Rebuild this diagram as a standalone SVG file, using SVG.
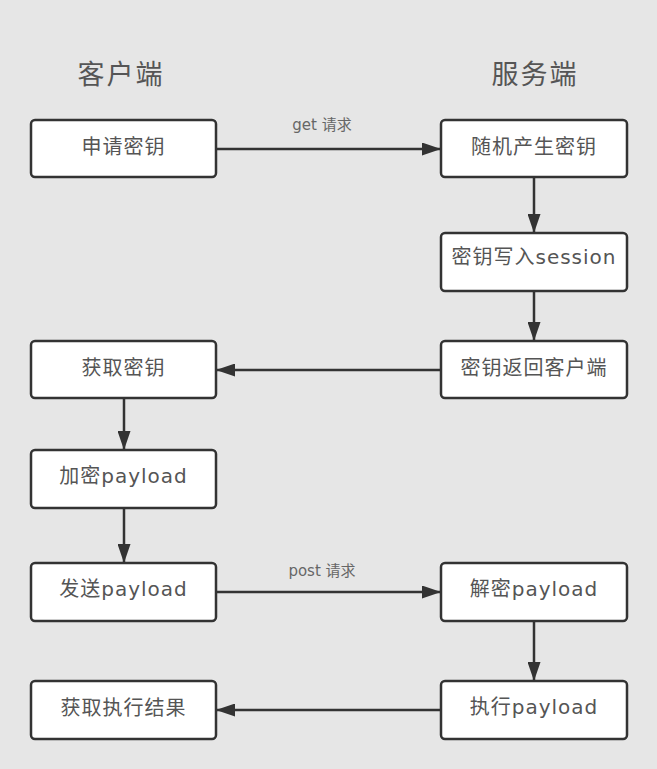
<svg xmlns="http://www.w3.org/2000/svg" width="657" height="769" viewBox="0 0 657 769">
<defs>
<marker id="ah" viewBox="0 0 19 13" refX="19" refY="6.5" markerWidth="19" markerHeight="13" markerUnits="userSpaceOnUse" orient="auto">
<path d="M0,0 L19,6.5 L0,13 z" fill="#333"/>
</marker>
<style>
.box{fill:#fff;stroke:#333;stroke-width:2.5}
.t{font-family:"DejaVu Sans","Noto Sans CJK SC",sans-serif;font-size:20px;letter-spacing:1px;fill:#555;text-anchor:middle;dominant-baseline:central}
.h{font-family:"Noto Sans CJK SC",sans-serif;font-size:27px;letter-spacing:2px;fill:#555;text-anchor:middle;dominant-baseline:central}
.l{font-family:"DejaVu Sans","Noto Sans CJK SC",sans-serif;font-size:15px;fill:#666;text-anchor:middle;dominant-baseline:central}
.c{stroke:#333;stroke-width:2.5;fill:none;marker-end:url(#ah)}
</style>
</defs>
<rect width="657" height="769" fill="#e6e6e6"/>
<text class="h" x="121" y="72">客户端</text>
<text class="h" x="535" y="72">服务端</text>
<g id="connectors">
<path class="c" d="M216,149 H441"/>
<path class="c" d="M534,177 V233"/>
<path class="c" d="M534,291 V341"/>
<path class="c" d="M441,370 H216"/>
<path class="c" d="M124,398 V450"/>
<path class="c" d="M124,508 V563"/>
<path class="c" d="M216,592 H441"/>
<path class="c" d="M534,621 V681"/>
<path class="c" d="M441,710 H216"/>
<text class="l" x="322" y="125">get 请求</text>
<text class="l" x="322" y="571">post 请求</text>
</g>
<g id="n1"><rect class="box" x="31" y="120" width="185" height="57" rx="4"/><text class="t" x="123.5" y="147">申请密钥</text></g>
<g id="n2"><rect class="box" x="441" y="120" width="186" height="57" rx="4"/><text class="t" x="534" y="147">随机产生密钥</text></g>
<g id="n3"><rect class="box" x="441" y="233" width="186" height="58" rx="4"/><text class="t" x="534" y="257">密钥写入session</text></g>
<g id="n4"><rect class="box" x="441" y="341" width="186" height="57" rx="4"/><text class="t" x="534" y="368">密钥返回客户端</text></g>
<g id="n5"><rect class="box" x="31" y="341" width="185" height="57" rx="4"/><text class="t" x="123.5" y="368">获取密钥</text></g>
<g id="n6"><rect class="box" x="31" y="450" width="185" height="58" rx="4"/><text class="t" x="123.5" y="476">加密payload</text></g>
<g id="n7"><rect class="box" x="31" y="563" width="185" height="58" rx="4"/><text class="t" x="123.5" y="589">发送payload</text></g>
<g id="n8"><rect class="box" x="441" y="563" width="186" height="58" rx="4"/><text class="t" x="534" y="589">解密payload</text></g>
<g id="n9"><rect class="box" x="441" y="681" width="186" height="58" rx="4"/><text class="t" x="534" y="707">执行payload</text></g>
<g id="n10"><rect class="box" x="31" y="681" width="185" height="58" rx="4"/><text class="t" x="123.5" y="708">获取执行结果</text></g>
</svg>
